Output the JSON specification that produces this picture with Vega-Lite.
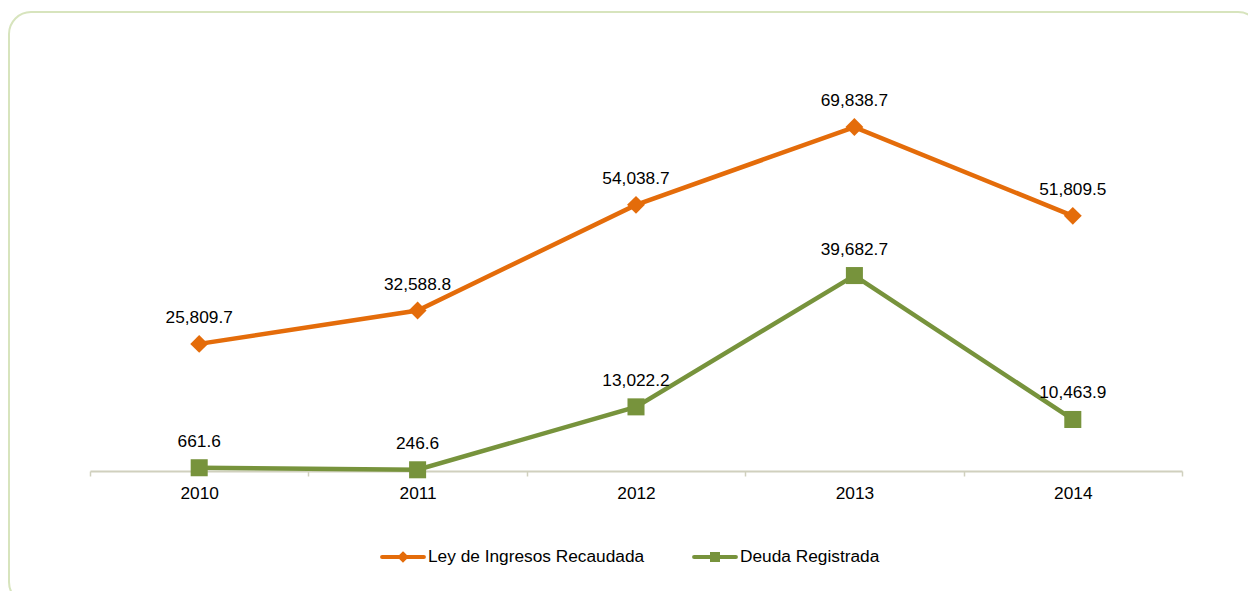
{
  "$schema": "https://vega.github.io/schema/vega-lite/v6.json",
  "autosize": {"type": "none"},
  "width": 1251,
  "height": 592,
  "padding": {"left": 9, "top": 12, "right": -12, "bottom": -13},
  "background": "white",
  "config": {
    "view": {"stroke": "#D7E4BD", "strokeWidth": 2, "cornerRadius": 22},
    "font": "Liberation Sans"
  },
  "data": {
    "values": [
      {"year": "2010", "series": "Ley de Ingresos Recaudada", "value": 25809.7},
      {"year": "2011", "series": "Ley de Ingresos Recaudada", "value": 32588.8},
      {"year": "2012", "series": "Ley de Ingresos Recaudada", "value": 54038.7},
      {"year": "2013", "series": "Ley de Ingresos Recaudada", "value": 69838.7},
      {"year": "2014", "series": "Ley de Ingresos Recaudada", "value": 51809.5},
      {"year": "2010", "series": "Deuda Registrada", "value": 661.6},
      {"year": "2011", "series": "Deuda Registrada", "value": 246.6},
      {"year": "2012", "series": "Deuda Registrada", "value": 13022.2},
      {"year": "2013", "series": "Deuda Registrada", "value": 39682.7},
      {"year": "2014", "series": "Deuda Registrada", "value": 10463.9}
    ]
  },
  "encoding": {
    "x": {
      "field": "year",
      "type": "ordinal",
      "scale": {"type": "band", "range": [81, 1173], "paddingInner": 0, "paddingOuter": 0},
      "axis": {
        "title": null,
        "grid": false,
        "labelAngle": 0,
        "domainColor": "#D0D0BE",
        "domainWidth": 2,
        "tickColor": "#D0D0BE",
        "tickWidth": 1.5,
        "tickSize": 5,
        "tickBand": "extent",
        "labelFont": "Liberation Sans",
        "labelFontSize": 17.3,
        "labelColor": "black",
        "labelPadding": 8,
        "offset": -133
      }
    },
    "y": {
      "field": "value",
      "type": "quantitative",
      "scale": {"domain": [0, 80000], "range": [459, 65]},
      "axis": null
    },
    "color": {
      "field": "series",
      "type": "nominal",
      "scale": {
        "domain": ["Ley de Ingresos Recaudada", "Deuda Registrada"],
        "range": ["#E46C0A", "#77933C"]
      },
      "legend": {
        "title": null,
        "orient": "none",
        "legendX": 369,
        "legendY": 520,
        "direction": "horizontal",
        "symbolSize": 2116,
        "symbolStrokeWidth": 4,
        "labelFont": "Liberation Sans",
        "labelFontSize": 17.3,
        "labelColor": "black",
        "labelOffset": 0,
        "labelLimit": 0,
        "columnPadding": 41,
        "encode": {
          "symbols": {
            "update": {
              "shape": {"signal": "datum.value === 'Ley de Ingresos Recaudada' ? 'M-0.91,0H0.91M0,-0.13L0.13,0L0,0.13L-0.13,0Z' : 'M-0.91,0H0.91M-0.13,-0.13H0.13V0.13H-0.13Z'"},
              "fill": {"signal": "scale('color', datum.value)"},
              "stroke": {"signal": "scale('color', datum.value)"},
              "strokeWidth": {"value": 4},
              "strokeCap": {"value": "round"},
              "opacity": {"value": 1}
            }
          }
        }
      }
    }
  },
  "layer": [
    {"mark": {"type": "line", "strokeWidth": 4.5}},
    {
      "transform": [{"filter": "datum.series === 'Ley de Ingresos Recaudada'"}],
      "mark": {"type": "point", "shape": "diamond", "filled": true, "opacity": 1, "size": 320}
    },
    {
      "transform": [{"filter": "datum.series === 'Deuda Registrada'"}],
      "mark": {"type": "point", "shape": "square", "filled": true, "opacity": 1, "size": 290}
    },
    {
      "mark": {"type": "text", "dy": -26, "baseline": "middle", "font": "Liberation Sans", "fontSize": 17.3},
      "encoding": {
        "text": {"field": "value", "type": "quantitative", "format": ",.1f"},
        "color": {"value": "black"}
      }
    }
  ]
}
